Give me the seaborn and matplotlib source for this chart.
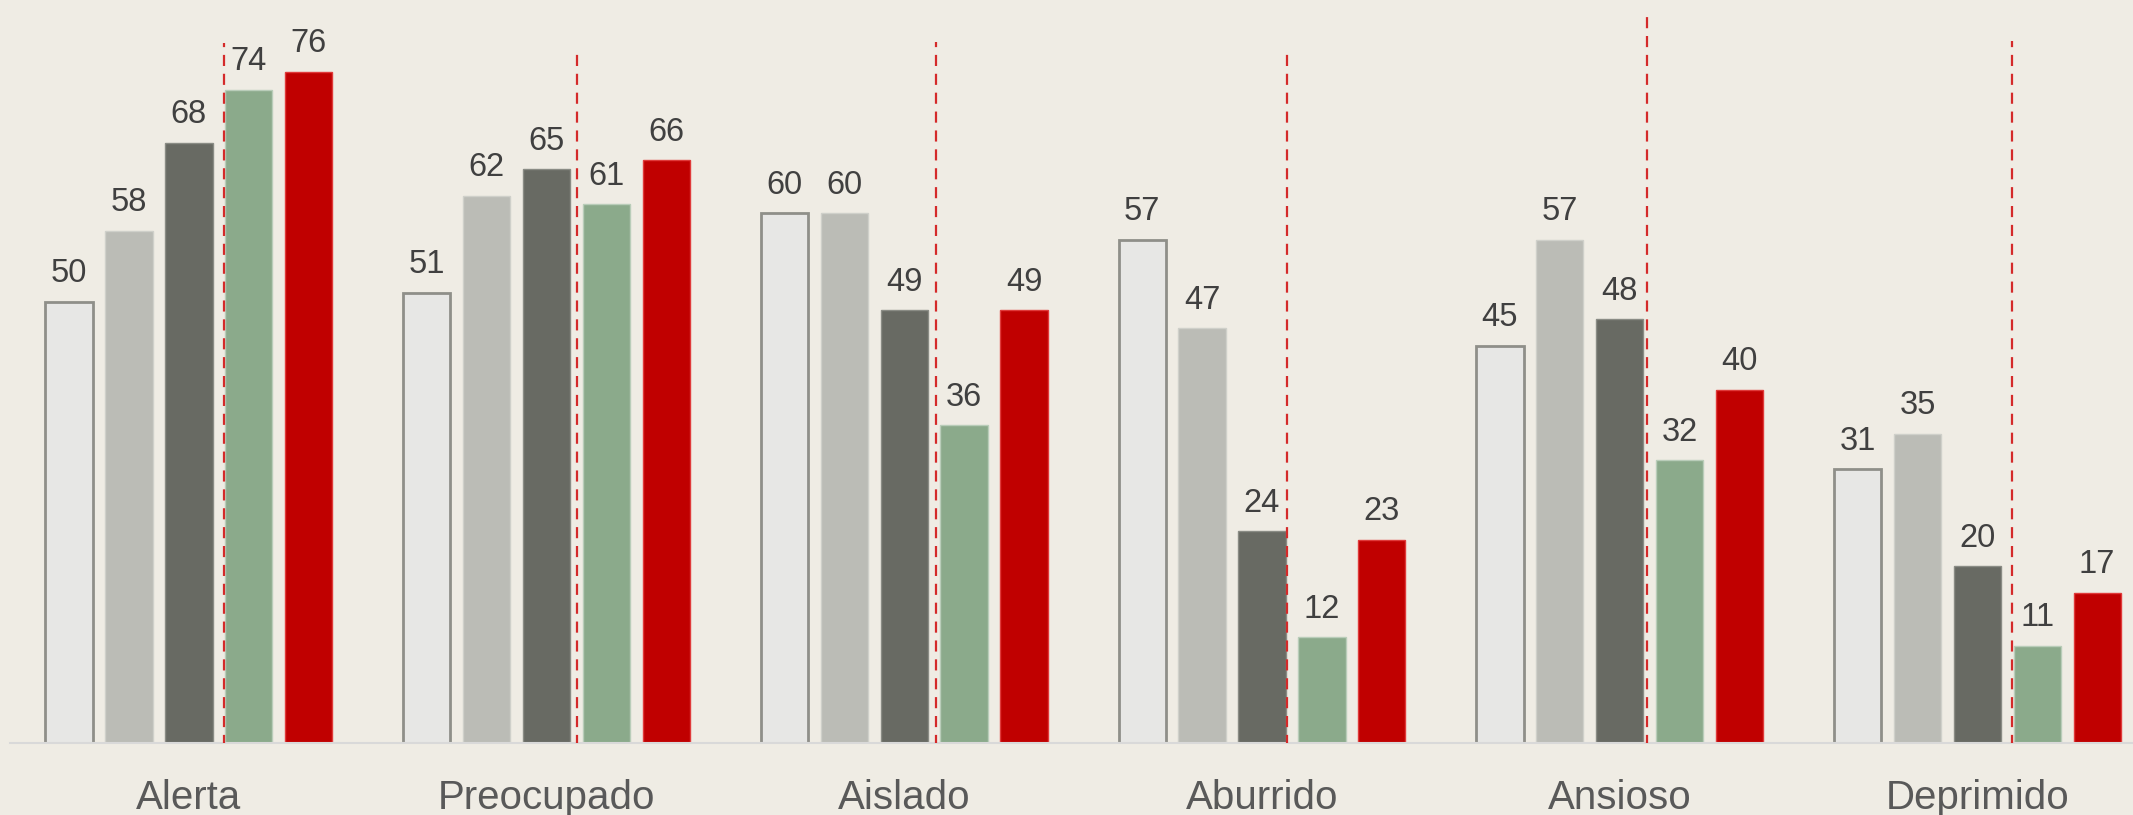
import numpy as np
import pandas as pd
import seaborn as sns
import matplotlib.pyplot as plt

categorias = ["Alerta", "Preocupado", "Aislado", "Aburrido", "Ansioso", "Deprimido"]
series = ["Serie 1", "Serie 2", "Serie 3", "Serie 4", "Serie 5"]

serie_1 = [50, 51, 60, 57, 45, 31]
serie_2 = [58, 62, 60, 47, 57, 35]
serie_3 = [68, 65, 49, 24, 48, 20]
serie_4 = [74, 61, 36, 12, 32, 11]
serie_5 = [76, 66, 49, 23, 40, 17]

# lineas rojas punteadas (valor superior y posicion dentro del grupo)
marca_valor = [79.3, 78.5, 79.4, 78.3, 82.8, 79.5]
marca_desplazamiento = [0.097, 0.086, 0.089, 0.071, 0.076, 0.096]

colores = ["#E7E7E5", "#BBBCB6", "#686A63", "#8BAA8B", "#C00000"]
bordes = ["#8F8F89", "#CFD0CA", "#8A8C85", "#B9CDB9", "#E03A3A"]
fondo = "#EFECE4"

plt.rcParams["font.family"] = ["Liberation Sans", "DejaVu Sans"]


def armar_tabla():
    valores = [serie_1, serie_2, serie_3, serie_4, serie_5]
    filas = []
    for nombre, vals in zip(series, valores):
        for cat, v in zip(categorias, vals):
            filas.append({"categoria": cat, "serie": nombre, "valor": v})
    return pd.DataFrame(filas)


def graficar(df):
    fig = plt.figure(figsize=(21.33, 8.15), dpi=100, facecolor=fondo)
    ax = fig.add_axes([10 / 2133, 72 / 815, 1 - 10 / 2133, 743 / 815])
    ax.set_facecolor(fondo)

    sns.barplot(data=df, x="categoria", y="valor", hue="serie",
                order=categorias, hue_order=series, palette=colores,
                saturation=1, width=0.837, gap=0.21, legend=False, ax=ax)

    for i, cont in enumerate(ax.containers):
        for barra in cont:
            barra.set_edgecolor(bordes[i])
            barra.set_linewidth(2.0 if i == 0 else 1.0)
        ax.bar_label(cont, fmt="%d", padding=9, fontsize=23.5, color="#404040")

    x = np.arange(len(categorias)) + np.array(marca_desplazamiento)
    ax.vlines(x, -0.3, marca_valor, colors="#D42A2A", linewidth=1.6,
              linestyles=(0, (5.0, 3.5)), zorder=5)

    ax.set_xlim(-0.5, 5.435)
    ax.set_ylim(0, 84.15)
    ax.set_xlabel("")
    ax.set_ylabel("")
    ax.set_yticks([])
    ax.tick_params(axis="x", length=0, pad=26, labelsize=29, labelcolor="#595959")
    for lado in ["top", "left", "right"]:
        ax.spines[lado].set_visible(False)
    ax.spines["bottom"].set_color("#D9D9D9")
    ax.spines["bottom"].set_linewidth(1.5)

    fig.savefig("out.png", dpi=100, facecolor=fondo)
    plt.close(fig)


if __name__ == "__main__":
    graficar(armar_tabla())
